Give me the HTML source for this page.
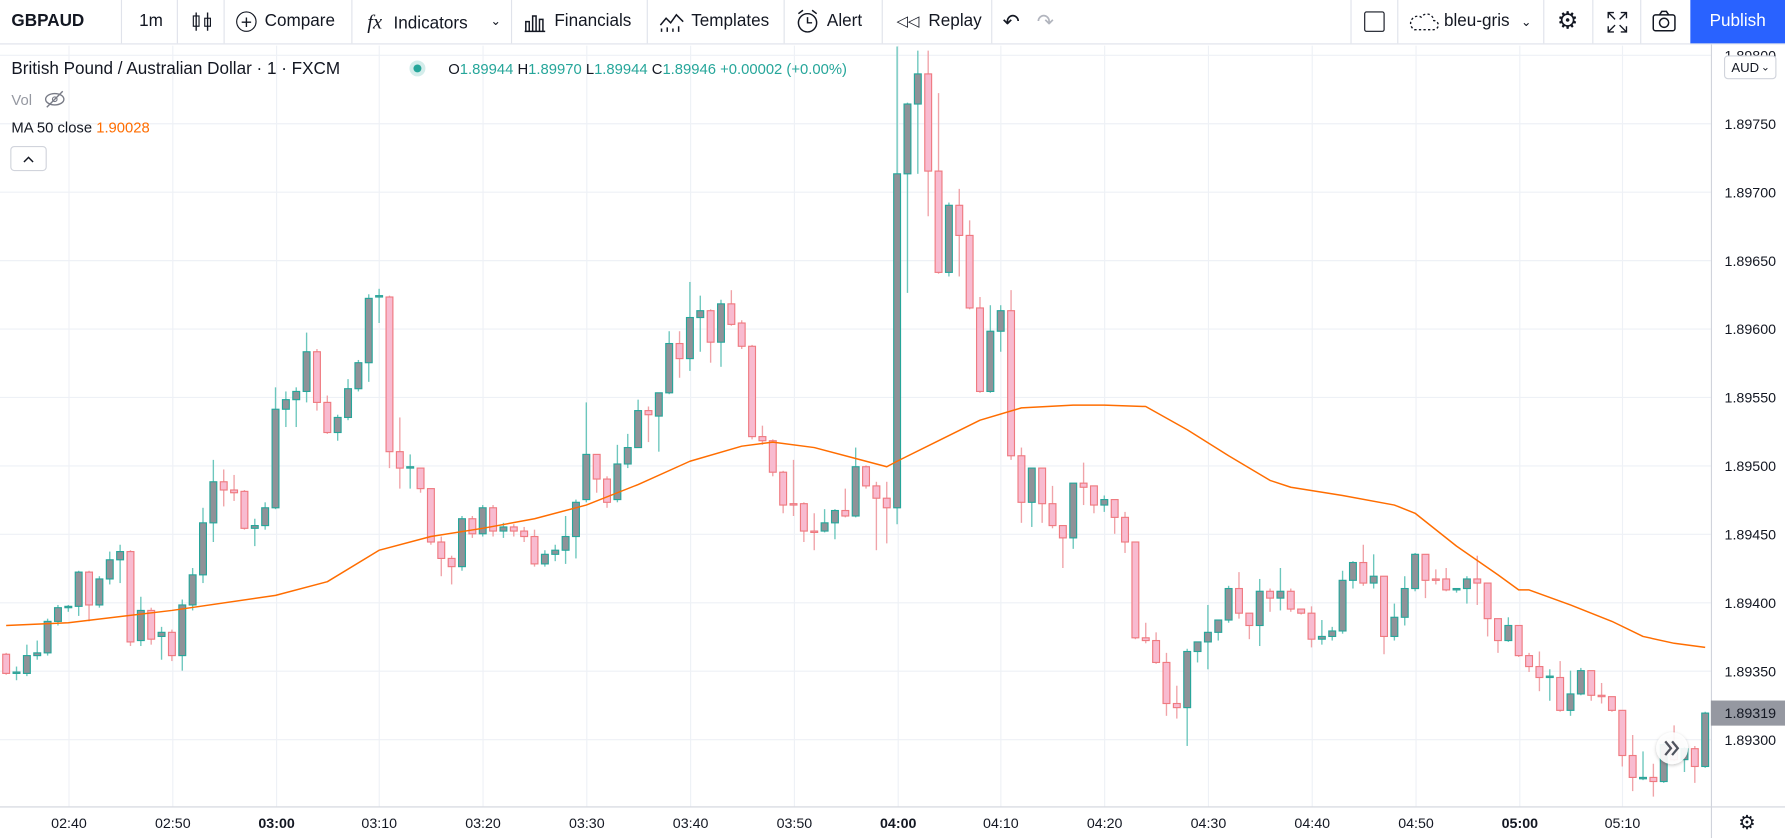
<!DOCTYPE html>
<html><head><meta charset="utf-8"><style>
html,body{margin:0;padding:0;background:#fff;overflow:hidden;width:1785px;height:838px}
#wrap{position:absolute;left:0;top:0;width:1565px;height:735px;transform:scale(1.14058);transform-origin:0 0;font-family:"Liberation Sans",sans-serif;color:#131722}
#top{position:absolute;left:0;top:0;width:1565px;height:38px;border-bottom:1px solid #e0e3eb;background:#fff}
.ti{position:absolute;top:0;height:38px;line-height:38px;font-size:15px;color:#131722;white-space:nowrap}
.sep{position:absolute;top:0;width:1px;height:38px;background:#e0e3eb}
#pub{position:absolute;left:1482px;top:0;width:83px;height:38px;background:#2962ff;color:#fff;font-size:15px;line-height:38px;text-align:center}
svg text{font-family:"Liberation Sans",sans-serif}
</style></head><body>
<div id="wrap">
<div id="top">
  <div class="ti" style="left:10px;font-weight:bold">GBPAUD</div>
  <div class="sep" style="left:106px"></div>
  <div class="ti" style="left:122px">1m</div>
  <div class="sep" style="left:155px"></div>
  <div class="ti" style="left:167px"><svg width="20" height="38" viewBox="0 0 20 38"><path d="M5 11v16M15 11v16" stroke="#131722" stroke-width="1.2"/><rect x="2.5" y="14" width="5" height="9" fill="none" stroke="#131722"/><rect x="12.5" y="16" width="5" height="7" fill="none" stroke="#131722"/></svg></div>
  <div class="sep" style="left:196px"></div>
  <div class="ti" style="left:207px"><span style="display:inline-block;width:18px;height:18px;border:1.4px solid #131722;border-radius:50%;text-align:center;line-height:17px;font-size:17px;vertical-align:middle;box-sizing:border-box;margin-right:7px">+</span>Compare</div>
  <div class="sep" style="left:308px"></div>
  <div class="ti" style="left:322px"><span style="font-style:italic;font-family:'Liberation Serif',serif;font-size:18px;margin-right:10px">fx</span>Indicators</div>
  <div class="ti" style="left:430px;font-size:11px">&#8964;</div>
  <div class="sep" style="left:448px"></div>
  <div class="ti" style="left:459px"><svg width="20" height="38" viewBox="0 0 20 38" style="vertical-align:top;margin-right:7px"><path d="M2 27V19h3v8M8 27V14h3v13M14 27V17h3v10M1 27.5h18" fill="none" stroke="#131722" stroke-width="1.3"/></svg>Financials</div>
  <div class="sep" style="left:567px"></div>
  <div class="ti" style="left:578px"><svg width="22" height="38" viewBox="0 0 22 38" style="vertical-align:top;margin-right:6px"><path d="M1 22l5-6 4 4 5-7 6 6M2 28v-3M7 28v-4M12 28v-3M17 28v-5" fill="none" stroke="#131722" stroke-width="1.3"/></svg>Templates</div>
  <div class="sep" style="left:687px"></div>
  <div class="ti" style="left:697px"><svg width="22" height="38" viewBox="0 0 22 38" style="vertical-align:top;margin-right:6px"><circle cx="11" cy="20" r="8" fill="none" stroke="#131722" stroke-width="1.3"/><path d="M11 15v5h4M3 12l4-3M19 12l-4-3" fill="none" stroke="#131722" stroke-width="1.3"/></svg>Alert</div>
  <div class="sep" style="left:773px"></div>
  <div class="ti" style="left:786px"><span style="font-size:13px;margin-right:8px">&#9665;&#9665;</span>Replay</div>
  <div class="sep" style="left:869px"></div>
  <div class="ti" style="left:879px;font-size:18px">&#8630;</div>
  <div class="ti" style="left:909px;font-size:18px;color:#b2b5be">&#8631;</div>
  <div class="sep" style="left:1184px"></div>
  <div class="ti" style="left:1196px"><span style="display:inline-block;width:16px;height:16px;border:1.4px solid #131722;border-radius:2px;vertical-align:middle"></span></div>
  <div class="sep" style="left:1225px"></div>
  <div class="ti" style="left:1234px"><svg width="28" height="38" viewBox="0 0 28 38" style="vertical-align:top;margin-right:4px"><path d="M6 26h17a4 4 0 0 0 0-8 6 6 0 0 0-11-3 5 5 0 0 0-6 11z" fill="none" stroke="#131722" stroke-width="1.2" stroke-dasharray="2 2"/></svg>bleu-gris<span style="font-size:11px;margin-left:10px">&#8964;</span></div>
  <div class="sep" style="left:1353px"></div>
  <div class="ti" style="left:1365px;font-size:21px">&#9881;</div>
  <div class="sep" style="left:1396px"></div>
  <div class="ti" style="left:1408px"><svg width="20" height="38" viewBox="0 0 20 38"><path d="M2 16v-5h5M13 11h5v5M18 23v5h-5M7 28H2v-5M2 11l6 6M18 11l-6 6M18 28l-6-6M2 28l6-6" fill="none" stroke="#131722" stroke-width="1.2"/></svg></div>
  <div class="sep" style="left:1438px"></div>
  <div class="ti" style="left:1448px"><svg width="22" height="38" viewBox="0 0 22 38"><rect x="1.5" y="13" width="19" height="14" rx="2" fill="none" stroke="#131722" stroke-width="1.3"/><circle cx="11" cy="20" r="4" fill="none" stroke="#131722" stroke-width="1.3"/><path d="M7 13l2-3h4l2 3" fill="none" stroke="#131722" stroke-width="1.3"/></svg></div>
  <div id="pub">Publish</div>
</div>
<svg id="chart" width="1565" height="696" viewBox="0 39 1565 696" style="position:absolute;left:0;top:39px">
  <defs><clipPath id="plotclip"><rect x="0" y="40" width="1500" height="667"/></clipPath>
  <filter id="sh" x="-50%" y="-50%" width="200%" height="200%"><feDropShadow dx="0" dy="1" stdDeviation="1.5" flood-color="#000" flood-opacity="0.25"/></filter></defs>
  <g id="grid"></g>
  <g id="candles" clip-path="url(#plotclip)"></g>
  <g id="ma" clip-path="url(#plotclip)"></g>
  <line x1="1500.5" y1="39" x2="1500.5" y2="735" stroke="#d1d4dc"/>
  <line x1="0" y1="707.5" x2="1565" y2="707.5" stroke="#d1d4dc"/>
  <g id="yaxis"></g>
  <g id="xaxis"></g>
  <g><rect x="1512" y="49" width="45" height="20" rx="3" fill="#fff" stroke="#d1d4dc"/><text x="1518" y="63" font-size="11.5" fill="#131722">AUD</text><text x="1544" y="62" font-size="9" fill="#131722">&#8964;</text></g>
  <g><rect id="lastbox" x="1500" y="614" width="65" height="22" fill="#9598a1"/><text id="lasttext" x="1512" y="630" font-size="12.5" fill="#131722"></text></g>
  <g><circle cx="1466" cy="656" r="14" fill="#fff" fill-opacity="0.9" filter="url(#sh)"/><path d="M1460 650l5 6-5 6M1466 650l5 6-5 6" fill="none" stroke="#50535e" stroke-width="2"/></g>
  <text x="1524" y="727" font-size="17" fill="#131722">&#9881;</text>
  <g>
    <text x="10" y="65" font-size="15" fill="#131722">British Pound / Australian Dollar · 1 · FXCM</text>
    <circle cx="366" cy="60" r="7" fill="#26a69a" fill-opacity="0.2"/><circle cx="366" cy="60" r="3.5" fill="#26a69a"/>
    <text x="393" y="65" font-size="13" fill="#26a69a"><tspan fill="#131722">O</tspan>1.89944 <tspan fill="#131722">H</tspan>1.89970 <tspan fill="#131722">L</tspan>1.89944 <tspan fill="#131722">C</tspan>1.89946 +0.00002 (+0.00%)</text>
    <text x="10" y="92" font-size="13" fill="#9598a1">Vol</text>
    <g><ellipse cx="48" cy="87" rx="8" ry="5" fill="none" stroke="#787b86" stroke-width="1.2"/><circle cx="48" cy="87" r="2" fill="none" stroke="#787b86"/><line x1="41" y1="94" x2="55" y2="80" stroke="#787b86" stroke-width="1.2"/></g>
    <text x="10" y="116" font-size="13" fill="#131722">MA 50 close <tspan fill="#ff6d00">1.90028</tspan></text>
    <g><rect x="9.5" y="128.5" width="31" height="21" rx="3" fill="#fff" stroke="#d1d4dc"/><path d="M21 142l4-4 4 4" fill="none" stroke="#131722" stroke-width="1.3"/></g>
  </g>
</svg>
</div>
<script>
// ---- data ----
const firstCandleTime = "02:34";
const openPrices = [1.89362,1.89348,1.89348,1.89361,1.89363,1.89386,1.89396,1.89397,1.89422,1.89398,1.89417,1.89431,1.89437,1.89372,1.89394,1.89375,1.89378,1.89361,1.89398,1.89420,1.89458,1.89488,1.89482,1.89481,1.89454,1.89456,1.89469,1.89541,1.89548,1.89554,1.89583,1.89546,1.89524,1.89535,1.89556,1.89575,1.89623,1.89623,1.89510,1.89498,1.89498,1.89483,1.89444,1.89432,1.89426,1.89461,1.89450,1.89469,1.89452,1.89455,1.89452,1.89448,1.89428,1.89435,1.89438,1.89448,1.89475,1.89508,1.89490,1.89475,1.89501,1.89513,1.89540,1.89536,1.89553,1.89589,1.89578,1.89608,1.89613,1.89590,1.89618,1.89604,1.89587,1.89521,1.89518,1.89495,1.89472,1.89472,1.89452,1.89452,1.89458,1.89467,1.89463,1.89499,1.89485,1.89476,1.89469,1.89713,1.89764,1.89786,1.89715,1.89641,1.89690,1.89668,1.89615,1.89554,1.89598,1.89613,1.89507,1.89473,1.89498,1.89472,1.89456,1.89447,1.89487,1.89485,1.89471,1.89475,1.89462,1.89444,1.89374,1.89372,1.89356,1.89326,1.89323,1.89364,1.89371,1.89378,1.89387,1.89410,1.89392,1.89383,1.89408,1.89403,1.89408,1.89395,1.89392,1.89373,1.89375,1.89379,1.89416,1.89429,1.89414,1.89419,1.89375,1.89389,1.89410,1.89435,1.89417,1.89417,1.89409,1.89410,1.89417,1.89414,1.89388,1.89372,1.89383,1.89361,1.89353,1.89345,1.89345,1.89321,1.89333,1.89350,1.89332,1.89331,1.89321,1.89288,1.89271,1.89272,1.89269,1.89296,1.89285,1.89293,1.89280];
const highPrices = [1.89363,1.89353,1.89369,1.89372,1.89388,1.89398,1.89398,1.89423,1.89423,1.89419,1.89437,1.89442,1.89438,1.89404,1.89396,1.89382,1.89380,1.89402,1.89425,1.89469,1.89504,1.89497,1.89493,1.89482,1.89461,1.89473,1.89557,1.89554,1.89557,1.89597,1.89585,1.89551,1.89537,1.89563,1.89577,1.89625,1.89629,1.89624,1.89535,1.89508,1.89498,1.89483,1.89448,1.89434,1.89463,1.89463,1.89471,1.89471,1.89458,1.89457,1.89455,1.89453,1.89438,1.89442,1.89463,1.89475,1.89546,1.89508,1.89492,1.89515,1.89523,1.89548,1.89543,1.89553,1.89598,1.89598,1.89634,1.89624,1.89614,1.89621,1.89628,1.89606,1.89588,1.89529,1.89519,1.89496,1.89504,1.89473,1.89465,1.89468,1.89468,1.89483,1.89513,1.89500,1.89488,1.89488,1.89806,1.89765,1.89803,1.89803,1.89772,1.89692,1.89702,1.89679,1.89623,1.89617,1.89617,1.89628,1.89513,1.89473,1.89498,1.89485,1.89456,1.89487,1.89502,1.89485,1.89478,1.89475,1.89466,1.89444,1.89385,1.89378,1.89363,1.89339,1.89366,1.89371,1.89398,1.89387,1.89412,1.89422,1.89392,1.89417,1.89410,1.89425,1.89410,1.89395,1.89397,1.89387,1.89382,1.89423,1.89430,1.89442,1.89435,1.89419,1.89399,1.89419,1.89436,1.89435,1.89424,1.89425,1.89410,1.89419,1.89434,1.89414,1.89388,1.89389,1.89383,1.89363,1.89364,1.89351,1.89357,1.89350,1.89352,1.89350,1.89341,1.89331,1.89321,1.89303,1.89291,1.89282,1.89297,1.89310,1.89294,1.89295,1.89320];
const lowPrices = [1.89347,1.89343,1.89346,1.89358,1.89361,1.89383,1.89393,1.89390,1.89386,1.89396,1.89413,1.89414,1.89368,1.89368,1.89369,1.89358,1.89357,1.89350,1.89394,1.89414,1.89444,1.89470,1.89474,1.89453,1.89441,1.89453,1.89468,1.89528,1.89528,1.89546,1.89540,1.89523,1.89518,1.89533,1.89554,1.89561,1.89604,1.89498,1.89483,1.89483,1.89480,1.89442,1.89419,1.89413,1.89423,1.89447,1.89448,1.89448,1.89447,1.89448,1.89444,1.89426,1.89426,1.89430,1.89428,1.89432,1.89473,1.89480,1.89469,1.89473,1.89498,1.89513,1.89517,1.89510,1.89552,1.89564,1.89569,1.89583,1.89575,1.89572,1.89602,1.89585,1.89519,1.89515,1.89492,1.89465,1.89463,1.89444,1.89438,1.89451,1.89446,1.89462,1.89462,1.89483,1.89438,1.89443,1.89457,1.89626,1.89713,1.89682,1.89640,1.89638,1.89638,1.89614,1.89553,1.89553,1.89583,1.89504,1.89458,1.89455,1.89458,1.89454,1.89425,1.89439,1.89471,1.89465,1.89466,1.89450,1.89436,1.89373,1.89370,1.89355,1.89317,1.89315,1.89295,1.89356,1.89351,1.89372,1.89385,1.89388,1.89373,1.89368,1.89393,1.89394,1.89393,1.89391,1.89367,1.89369,1.89372,1.89377,1.89410,1.89412,1.89410,1.89362,1.89372,1.89383,1.89408,1.89403,1.89413,1.89408,1.89407,1.89399,1.89398,1.89375,1.89363,1.89371,1.89360,1.89349,1.89335,1.89328,1.89320,1.89317,1.89332,1.89328,1.89326,1.89320,1.89280,1.89262,1.89270,1.89258,1.89268,1.89284,1.89276,1.89268,1.89279];
const closePrices = [1.89348,1.89349,1.89361,1.89363,1.89386,1.89396,1.89397,1.89422,1.89398,1.89417,1.89431,1.89437,1.89371,1.89394,1.89373,1.89378,1.89361,1.89398,1.89420,1.89458,1.89488,1.89482,1.89480,1.89454,1.89456,1.89469,1.89541,1.89548,1.89554,1.89583,1.89546,1.89524,1.89535,1.89556,1.89575,1.89622,1.89624,1.89510,1.89498,1.89499,1.89483,1.89444,1.89432,1.89426,1.89461,1.89450,1.89469,1.89452,1.89455,1.89452,1.89448,1.89428,1.89435,1.89438,1.89448,1.89473,1.89508,1.89490,1.89473,1.89501,1.89513,1.89540,1.89537,1.89553,1.89589,1.89578,1.89608,1.89613,1.89590,1.89618,1.89603,1.89587,1.89521,1.89518,1.89495,1.89471,1.89471,1.89452,1.89451,1.89458,1.89467,1.89463,1.89499,1.89485,1.89476,1.89469,1.89713,1.89764,1.89786,1.89715,1.89641,1.89690,1.89668,1.89615,1.89554,1.89598,1.89613,1.89507,1.89473,1.89498,1.89472,1.89456,1.89447,1.89487,1.89484,1.89471,1.89475,1.89462,1.89444,1.89374,1.89372,1.89356,1.89326,1.89323,1.89364,1.89371,1.89378,1.89387,1.89410,1.89392,1.89383,1.89408,1.89403,1.89408,1.89395,1.89392,1.89373,1.89375,1.89379,1.89416,1.89429,1.89414,1.89419,1.89375,1.89389,1.89410,1.89435,1.89416,1.89416,1.89409,1.89410,1.89417,1.89414,1.89388,1.89372,1.89383,1.89361,1.89353,1.89345,1.89346,1.89321,1.89333,1.89350,1.89332,1.89331,1.89321,1.89288,1.89272,1.89272,1.89269,1.89296,1.89285,1.89293,1.89280,1.89319];
const maIndex = [0,6,16,26,31,36,41,46,51,56,61,66,71,74,78,82,85,86,90,94,98,103,106,110,114,118,122,124,129,134,136,140,144,146,147,151,155,158,161,164];
const maValues = [1.89383,1.89385,1.89394,1.89405,1.89415,1.89438,1.89448,1.89454,1.89461,1.89471,1.89486,1.89503,1.89514,1.89517,1.89513,1.89505,1.89499,1.89503,1.89518,1.89533,1.89542,1.89544,1.89544,1.89543,1.89526,1.89507,1.89489,1.89484,1.89478,1.89471,1.89465,1.89441,1.89420,1.89409,1.89409,1.89398,1.89386,1.89375,1.89370,1.89367];
const timeTickLabels = ["02:40","02:50","03:00","03:10","03:20","03:30","03:40","03:50","04:00","04:10","04:20","04:30","04:40","04:50","05:00","05:10"];
const timeTickIndex = [6,16,26,36,46,56,66,76,86,96,106,116,126,136,146,156];
const boldTicks = ["03:00","04:00","05:00"];
const priceTicks = [1.898,1.8975,1.897,1.8965,1.896,1.8955,1.895,1.8945,1.894,1.8935,1.893];
const lastPrice = 1.89319;

// ---- scales ----
function xScale(i){ return 5.4 + i*9.083; }
function yScale(p){ return 108 + (1.8975 - p)*120000; }
const NS="http://www.w3.org/2000/svg";
function mk(tag, attrs, parent){ const e=document.createElementNS(NS,tag); for(const k in attrs) e.setAttribute(k,attrs[k]); parent.appendChild(e); return e; }

const grid=document.getElementById('grid'), yaxis=document.getElementById('yaxis'), xaxis=document.getElementById('xaxis');
priceTicks.forEach(p=>{
  const y=Math.round(yScale(p))+0.5;
  const l=mk('line',{x1:0,x2:1500,y1:y,y2:y,stroke:'#eef1f6'},grid);
  
  
  const t=mk('text',{x:1512,y:y+4.5,'font-size':12.5,fill:'#131722'},yaxis);
  t.textContent=p.toFixed(5);
  
  
});
timeTickIndex.forEach((idx,k)=>{
  const x=Math.round(xScale(idx))+0.5;
  const l=mk('line',{x1:x,x2:x,y1:40,y2:707,stroke:'#eef1f6'},grid);
  
  
  const lab=timeTickLabels[k];
  const t=mk('text',{x:x,y:726,'font-size':12.5,fill:'#131722','text-anchor':'middle','font-weight':boldTicks.includes(lab)?'bold':'normal'},xaxis);
  t.textContent=lab;
  
  
});

const cg=document.getElementById('candles');
for(let i=0;i<openPrices.length;i++){
  const o=openPrices[i],h=highPrices[i],l=lowPrices[i],c=closePrices[i];
  const up=c>=o;
  const x=xScale(i);
  const wick=up?'#26a69a':'#ef7a80';
  const g=mk('g',{},cg);
  
  
  mk('line',{x1:x,x2:x,y1:yScale(h),y2:yScale(l),stroke:up?'#6cc7bd':'#f0a3a8','stroke-width':1.2},g);
  const top=yScale(Math.max(o,c)), bot=yScale(Math.min(o,c));
  mk('rect',{x:x-3,y:top,width:6,height:Math.max(bot-top,1),fill:up?'#8f9298':'#f8bbd0',stroke:wick,'stroke-width':1},g);
}
const pts=maIndex.map((idx,k)=>xScale(idx).toFixed(1)+','+yScale(maValues[k]).toFixed(1)).join(' ');
const ml=mk('polyline',{points:pts,fill:'none',stroke:'#ff6d00','stroke-width':1.3,'stroke-linejoin':'round'},document.getElementById('ma'));


const ly=yScale(lastPrice);
document.getElementById('lastbox').setAttribute('y',ly-11);
const lt=document.getElementById('lasttext');
lt.setAttribute('y',ly+4.5);
lt.textContent=lastPrice.toFixed(5);
const ll=mk('line',{x1:0,x2:1500,y1:ly,y2:ly,stroke:'#9598a1','stroke-dasharray':'1 2','stroke-opacity':0.0},grid);


</script>
</body></html>
